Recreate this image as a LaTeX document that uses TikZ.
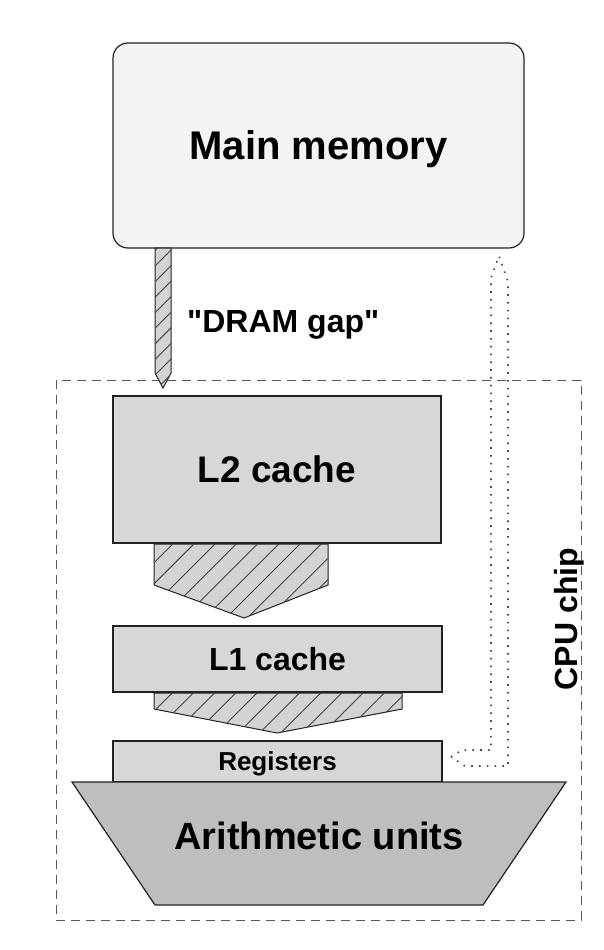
\documentclass[tikz,border=0pt]{standalone}
\usepackage{fontspec}
\setmainfont{Liberation Sans}
\usetikzlibrary{patterns.meta}
\definecolor{memfill}{HTML}{F3F3F3}
\definecolor{cachefill}{HTML}{D7D7D7}
\definecolor{hatchfill}{HTML}{D3D3D3}
\definecolor{alufill}{HTML}{BEBEBE}
\definecolor{edge}{HTML}{222222}
\newcommand{\fsz}[1]{\fontsize{#1}{#1}\selectfont\bfseries}
\tikzset{
  box/.style={draw=edge, line width=1.2pt, fill=cachefill, inner sep=0pt, text depth=0pt},
  hatched/.style={draw=edge, line width=1pt, fill=hatchfill,
    postaction={pattern={Lines[angle=45,distance=#1,line width=0.9pt]}, pattern color=black!75}},
  hatched/.default=15pt,
  dotline/.style={draw=black!70, line width=1.6pt, dash pattern=on 1.6pt off 6.2pt},
  chipbox/.style={draw=black!65, line width=0.8pt, dash pattern=on 9pt off 6pt, inner sep=0pt},
}
\begin{document}
\begin{tikzpicture}[x=1pt,y=-1pt]
\useasboundingbox[fill=white] (0,0) rectangle (604,950);
% CPU chip frame
\node[chipbox, minimum width=525pt, minimum height=540pt] (chip) at (318.5,650) {};
\node[rotate=90, font=\fsz{32}, text depth=0pt, inner sep=0pt] (chiplabel) at (566,619) {CPU chip};
% boxes
\node[box, fill=memfill, rounded corners=15pt, minimum width=411pt, minimum height=205pt, font=\fsz{40}] (mem) at (318.5,145.5) {Main memory};
\node[box, minimum width=328pt, minimum height=147pt, font=\fsz{37}] (l2) at (277,469.5) {L2 cache};
\node[box, minimum width=329pt, minimum height=66pt, font=\fsz{32}] (l1) at (277.5,659) {L1 cache};
\node[box, minimum width=329pt, minimum height=41pt, font=\fsz{26}] (reg) at (277.5,761.5) {Registers};
% arithmetic units
\path[draw=edge, line width=1.2pt, fill=alufill] (72,782) -- (566,782) -- (483,905) -- (155,905) -- cycle;
\node[font=\fsz{38}, text depth=0pt, inner sep=0pt] (alu) at (319,835.5) {Arithmetic units};
% DRAM gap arrow
\path[hatched=11pt] (155,248) -- (171,248) -- (171,373) -- (163,388) -- (155,373) -- cycle;
\node[font=\fsz{32}, anchor=base west, inner sep=0pt] (gap) at (187,332) {\textquotedbl DRAM gap\textquotedbl};
% funnels
\path[hatched] (154,544) -- (328,544) -- (328,585) -- (244,618) -- (154,585) -- cycle;
\path[hatched] (154,693) -- (402,693) -- (402,709) -- (277,733) -- (154,709) -- cycle;
% dotted return arrow
\path[dotline] (451,757) -- (462,750) -- (491,750) -- (491,278) -- (499,256) -- (508,282) -- (508,766) -- (465,766) -- cycle;
\end{tikzpicture}
\end{document}
